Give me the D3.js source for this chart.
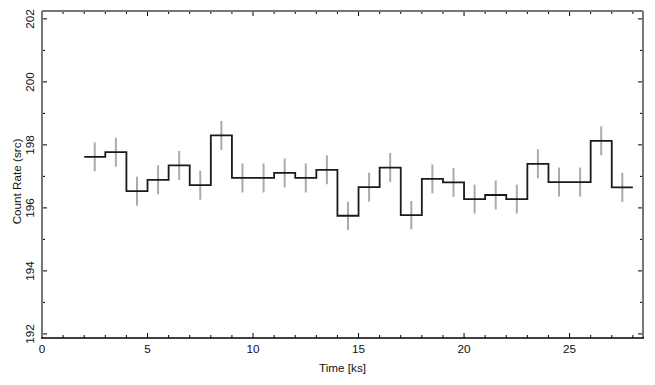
<!DOCTYPE html>
<html>
<head>
<meta charset="utf-8">
<script src="https://d3js.org/d3.v7.min.js"></script>
<style>
  body { margin: 0; background: #fff; }
  svg { display: block; font-family: "Liberation Sans", Arial, sans-serif; }
  .lbl { font-size: 11.7px; fill: #111; }
</style>
</head>
<body>
<div id="chart"></div>
<script>
// light curve bins: start/end in ks, rate and error
var binStart = [2, 3, 4, 5, 6, 7, 8, 9, 10, 11, 12, 13, 14, 15, 16, 17, 18, 19, 20, 21, 22, 23, 24, 25, 26, 27];
var rate = [197.62, 197.77, 196.53, 196.89, 197.35, 196.72, 198.30, 196.95, 196.95, 197.11, 196.95, 197.21, 195.75,
            196.66, 197.28, 195.77, 196.92, 196.81, 196.28, 196.41, 196.28, 197.40, 196.82, 196.82, 198.13, 196.65];
var rateErr = [0.46, 0.46, 0.46, 0.46, 0.46, 0.46, 0.46, 0.46, 0.46, 0.46, 0.46, 0.46, 0.45,
               0.46, 0.46, 0.45, 0.46, 0.46, 0.46, 0.46, 0.46, 0.46, 0.46, 0.46, 0.46, 0.46];
var binWidth = 1;
var xTicks = [0, 5, 10, 15, 20, 25];
var yTicks = [192, 194, 196, 198, 200, 202];

var W = 655, H = 385;
var pLeft = 42, pRight = 643, pTop = 11, pBottom = 338;

var x = d3.scaleLinear().domain([0, 28.48]).range([pLeft, pRight]);
var y = d3.scaleLinear().domain([191.87, 202.25]).range([pBottom, pTop]);

var svg = d3.select("#chart").append("svg")
    .attr("width", W).attr("height", H);

// frame ticks (inward, all four sides)
var xMinor = d3.range(0, 29, 1);
var yMinor = d3.range(192, 203, 1);
var tk = svg.append("g").attr("stroke", "#000").attr("stroke-width", 1);
xMinor.forEach(function(v) {
  var len = (v % 5 === 0) ? 5 : 3;
  tk.append("line").attr("x1", x(v)).attr("x2", x(v)).attr("y1", pBottom).attr("y2", pBottom - len);
  tk.append("line").attr("x1", x(v)).attr("x2", x(v)).attr("y1", pTop).attr("y2", pTop + len);
});
yMinor.forEach(function(v) {
  var len = (v % 2 === 0) ? 5 : 3;
  tk.append("line").attr("y1", y(v)).attr("y2", y(v)).attr("x1", pLeft).attr("x2", pLeft + len);
  tk.append("line").attr("y1", y(v)).attr("y2", y(v)).attr("x1", pRight).attr("x2", pRight - len);
});

// frame
svg.append("line").attr("x1", pLeft).attr("x2", pRight).attr("y1", pTop).attr("y2", pTop)
  .attr("stroke", "#777").attr("stroke-width", 2);
svg.append("line").attr("x1", pLeft).attr("x2", pLeft).attr("y1", pTop).attr("y2", pBottom)
  .attr("stroke", "#777").attr("stroke-width", 2);
svg.append("line").attr("x1", pRight).attr("x2", pRight).attr("y1", pTop).attr("y2", pBottom)
  .attr("stroke", "#777").attr("stroke-width", 2);
svg.append("line").attr("x1", pLeft - 1).attr("x2", pRight + 1).attr("y1", pBottom).attr("y2", pBottom)
  .attr("stroke", "#000").attr("stroke-width", 1.5);

// tick labels
svg.selectAll(".xl").data(xTicks).enter().append("text")
  .attr("class", "lbl").attr("x", function(d) { return x(d); }).attr("y", 353)
  .attr("text-anchor", "middle").text(function(d) { return d; });
svg.selectAll(".yl").data(yTicks).enter().append("text")
  .attr("class", "lbl")
  .attr("transform", function(d) { return "translate(34," + y(d) + ") rotate(-90)"; })
  .attr("text-anchor", "middle").text(function(d) { return d; });

svg.append("text").attr("class", "lbl").attr("x", (pLeft + pRight) / 2).attr("y", 372)
  .attr("text-anchor", "middle").text("Time [ks]");
svg.append("text").attr("class", "lbl")
  .attr("transform", "translate(21," + ((pTop + pBottom) / 2 + 7) + ") rotate(-90)")
  .attr("text-anchor", "middle").text("Count Rate (src)");

// error bars
svg.append("g").selectAll("line").data(binStart).enter().append("line")
  .attr("x1", function(d) { return x(d + binWidth / 2); })
  .attr("x2", function(d) { return x(d + binWidth / 2); })
  .attr("y1", function(d, i) { return y(rate[i] - rateErr[i]); })
  .attr("y2", function(d, i) { return y(rate[i] + rateErr[i]); })
  .attr("stroke", "#aaa").attr("stroke-width", 2);

// step line
var pts = [];
binStart.forEach(function(s, i) {
  pts.push([s, rate[i]]);
  pts.push([s + binWidth, rate[i]]);
});
svg.append("path").datum(pts)
  .attr("d", d3.line().x(function(d) { return x(d[0]); }).y(function(d) { return y(d[1]); }))
  .attr("fill", "none").attr("stroke", "#1a1a1a").attr("stroke-width", 1.8);
</script>
</body>
</html>
